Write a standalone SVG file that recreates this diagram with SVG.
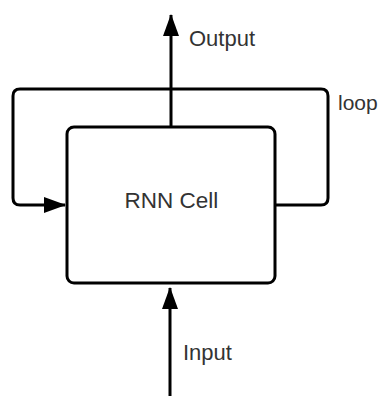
<svg xmlns="http://www.w3.org/2000/svg" width="381" height="396" viewBox="0 0 381 396">
<defs>
<style>
.ln{fill:none;stroke:#000;stroke-width:3;stroke-linejoin:round}
.lbl{font-family:"Liberation Sans",Arial,sans-serif;font-size:21px;fill:#333}
</style>
<marker id="ah" viewBox="0 0 22 16" refX="21" refY="8" markerWidth="22" markerHeight="16" markerUnits="userSpaceOnUse" orient="auto">
<path d="M0,0 L22,8 L0,16 Z" fill="#000"/>
</marker>
</defs>
<rect width="381" height="396" fill="#fff"/>
<g id="connectors">
<path class="ln" d="M171,127 L171,15" marker-end="url(#ah)"/>
<path class="ln" d="M170,396 L170,288" marker-end="url(#ah)"/>
<path class="ln" d="M275,205 L321,205 Q328,205 328,198 L328,96 Q328,89 321,89 L20,89 Q13,89 13,96 L13,198 Q13,205 20,205 L65,205" marker-end="url(#ah)"/>
</g>
<g id="cell">
<rect x="67" y="127" width="208" height="156" rx="7" fill="#fff" stroke="#000" stroke-width="3"/>
<text class="lbl" x="171.5" y="208" text-anchor="middle" font-size="22" style="font-size:22.5px">RNN Cell</text>
</g>
<g id="labels">
<text class="lbl" x="189" y="46" style="font-size:22px">Output</text>
<text class="lbl" x="338" y="110">loop</text>
<text class="lbl" x="183" y="360" style="font-size:22px">Input</text>
</g>
</svg>
